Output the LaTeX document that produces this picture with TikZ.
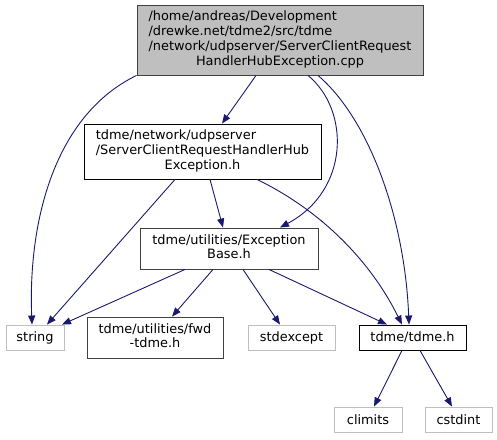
\documentclass[tikz,border=0pt]{standalone}
\usepackage{fontspec}
\setmainfont{DejaVu Sans}
\usetikzlibrary{arrows.meta}
\definecolor{edgecol}{HTML}{191970}
\definecolor{topfill}{HTML}{BFBFBF}
\definecolor{lightborder}{HTML}{BFBFBF}
\definecolor{darkborder}{HTML}{404040}
\newcommand{\mylbl}[2]{\begin{tabular}{@{}l@{}}#1\\\multicolumn{1}{@{}c@{}}{#2}\end{tabular}}
\begin{document}
\begin{tikzpicture}[x=1pt,y=-1pt,
  nd/.style={rectangle, inner sep=0pt, align=center, font=\fontsize{12.9}{14.9}\selectfont, line width=0.9pt, text=black},
  docbox/.style={nd, draw=black, fill=white},
  grbox/.style={nd, draw=darkborder, fill=white},
  extbox/.style={nd, draw=lightborder, fill=white},
  mainbox/.style={nd, draw=darkborder, fill=topfill},
  dep/.style={draw=edgecol, line width=0.9pt, -{Triangle[length=9pt,width=7pt]}}]
\useasboundingbox (0,0) rectangle (497,439);

\node[mainbox, minimum width=286pt, minimum height=70pt] (top) at (280,40)
  {\mylbl{/home/andreas/Development\\/drewke.net/tdme2/src/tdme\\/network/udpserver/ServerClientRequest}{HandlerHubException.cpp}};
\node[docbox, minimum width=237pt, minimum height=55pt] (n2) at (202.5,151.5)
  {\mylbl{tdme/network/udpserver\\/ServerClientRequestHandlerHub}{Exception.h}};
\node[grbox, minimum width=178pt, minimum height=41pt] (eb) at (229,248.5)
  {\mylbl{tdme/utilities/Exception}{Base.h}};
\node[extbox, minimum width=58pt, minimum height=25pt] (str) at (35,337.5) {string};
\node[grbox, minimum width=136pt, minimum height=41pt] (fwd) at (155,337.5)
  {\mylbl{tdme/utilities/fwd}{-tdme.h}};
\node[extbox, minimum width=87pt, minimum height=25pt] (stdex) at (291.5,337.5) {stdexcept};
\node[docbox, minimum width=107pt, minimum height=25pt] (tdme) at (412.5,337.5) {tdme/tdme.h};
\node[extbox, minimum width=68pt, minimum height=25pt] (clim) at (368,419.5) {climits};
\node[extbox, minimum width=67pt, minimum height=25pt] (cstd) at (458.5,419.5) {cstdint};

% from main file
\draw[dep] (top.south west) .. controls (55,115) and (28,220) .. ([xshift=-3pt]str.north);
\draw[dep] ([xshift=-24pt]top.south) -- ([xshift=19.5pt]n2.north);
\draw[dep] ([xshift=28pt]top.south) .. controls (350,110) and (350,190) .. ([xshift=51pt]eb.north);
\draw[dep] ([xshift=38pt]top.south) .. controls (370,120) and (405,220) .. ([xshift=-3.5pt]tdme.north);
% from n2
\draw[dep] ([xshift=-27.5pt]n2.south) -- ([xshift=12pt]str.north);
\draw[dep] ([xshift=7.5pt]n2.south) -- ([xshift=-6pt]eb.north);
\draw[dep] ([xshift=54.5pt]n2.south) .. controls (320,210) and (370,260) .. ([xshift=-10.5pt]tdme.north);
% from eb
\draw[dep] ([xshift=-44pt]eb.south) -- ([xshift=27pt]str.north);
\draw[dep] ([xshift=-16pt]eb.south) -- ([xshift=17pt]fwd.north);
\draw[dep] ([xshift=14pt]eb.south) -- ([xshift=-11.5pt]stdex.north);
\draw[dep] ([xshift=40pt]eb.south) -- ([xshift=-25.5pt]tdme.north);
% from tdme
\draw[dep] ([xshift=-10.5pt]tdme.south) -- ([xshift=6pt]clim.north);
\draw[dep] ([xshift=7.5pt]tdme.south) -- ([xshift=-6.5pt]cstd.north);
\end{tikzpicture}
\end{document}
